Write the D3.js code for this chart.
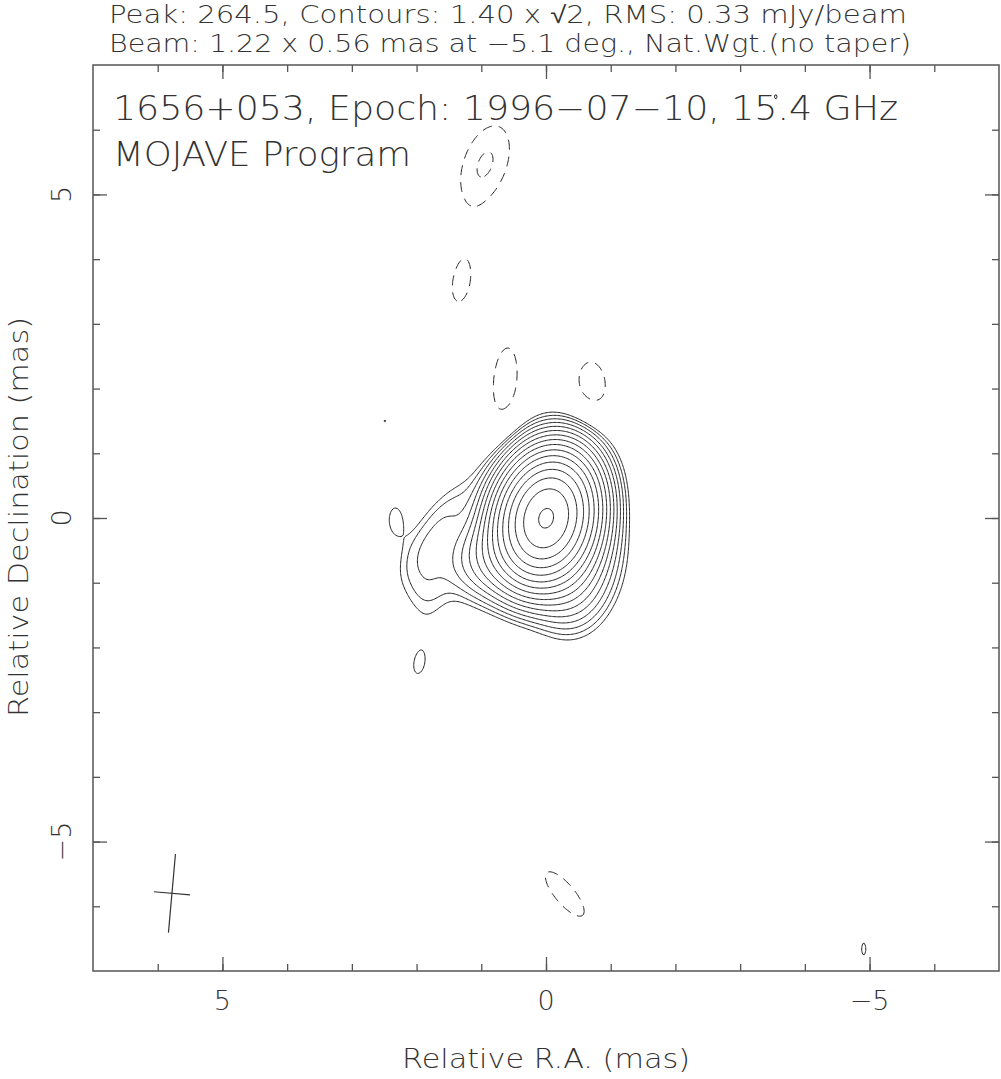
<!DOCTYPE html>
<html><head><meta charset="utf-8">
<script src="https://cdn.jsdelivr.net/npm/d3@7"></script>
<style>
body{margin:0;background:#fff}
svg text{font-family:"DejaVu Sans",sans-serif;fill:#333;font-weight:200}
</style></head><body>
<svg id="chart" width="1001" height="1079"></svg>
<script>
// ---------------- data ----------------
const raDomain = [7, -7];
const decDomain = [-7, 7];
const minorTicks = [6,5,4,3,2,1,0,-1,-2,-3,-4,-5,-6];
const majorTicks = [5, 0, -5];
const majorTickLabels = ["5", "0", "\u22125"];
const titleLines = [
  "Peak: 264.5, Contours: 1.40 x \u221A2, RMS: 0.33 mJy/beam",
  "Beam: 1.22 x 0.56 mas at \u22125.1 deg., Nat.Wgt.(no taper)"
];
const sourceTitle = "1656+053, Epoch: 1996\u221207\u221210, 15.4 GHz";
const programTitle = "MOJAVE Program";
const xAxisTitle = "Relative R.A. (mas)";
const yAxisTitle = "Relative Declination (mas)";
const peakFlux = 264.5;
const baseContour = 1.40;
const contourFactor = Math.SQRT2;
const beamMajor = 1.22, beamMinor = 0.56, beamPA = -5.1;
const beamCenter = [5.78, -5.8];
// Gaussian model components of the map (mas, mJy/beam, deg)
const compRA    = [0.00, -0.50, -0.35, 0.95, 1.85, 1.655, 2.33, 1.96, 2.49, -3.55, -4.91,  0.94,  1.31,  0.63, -0.71, -0.29];
const compDec   = [0.00, -0.60, -1.10, -0.65, -1.00, -0.09, -0.02, -2.25, 1.50, 6.51, -6.66,  5.47,  3.62,  2.12,  2.06, -5.81];
const compPeak  = [263,  6.0,   5.0,   7.0,  2.2,   2.3,  1.75,  1.50,  1.42, 1.45, 1.45, -2.06, -1.58, -1.85, -1.79, -1.81];
const compSMaj  = [0.52, 0.50,  0.45,  0.38, 0.42,  0.60, 0.25,  0.40,  0.10, 0.12, 0.35,  0.70,  0.54,  0.68,  0.50,  0.60];
const compSMin  = [0.38, 0.40,  0.35,  0.38, 0.28,  0.22, 0.13,  0.20,  0.08, 0.08, 0.12,  0.375, 0.24,  0.24,  0.30,  0.21];
const compPA    = [-15,  0,     0,     0,    0,    -35,   0,    -10,    0,    0,    0,    -20,   -10,    -5,    5,     40];

// ---------------- layout ----------------
const L = 93, R = 999, T = 65, B = 971;
const svg = d3.select("#chart");
const x = d3.scaleLinear().domain(raDomain).range([L, R]);
const y = d3.scaleLinear().domain(decDomain).range([B, T]);

// ---------------- field ----------------
const step = 0.02;
const n = Math.round((raDomain[0] - raDomain[1]) / step) + 1;
const values = new Float64Array(n * n);
const comps = compRA.map((ra, k) => {
  const pa = compPA[k] * Math.PI / 180;
  return {ra, dec: compDec[k], p: compPeak[k], a: 2 * compSMaj[k] ** 2, b: 2 * compSMin[k] ** 2,
          s: Math.sin(pa), c: Math.cos(pa), r: 6 * compSMaj[k]};
});
for (let j = 0; j < n; j++) {
  const dec = decDomain[1] - j * step;
  for (let i = 0; i < n; i++) {
    const ra = raDomain[0] - i * step;
    let v = 0;
    for (const q of comps) {
      const dx = ra - q.ra, dy = dec - q.dec;
      if (Math.abs(dx) > q.r || Math.abs(dy) > q.r) continue;
      const u = dx * q.s + dy * q.c, w = dx * q.c - dy * q.s;
      v += q.p * Math.exp(-(u * u / q.a + w * w / q.b));
    }
    values[j * n + i] = v;
  }
}
const posLevels = [];
for (let lv = baseContour; lv <= peakFlux; lv *= contourFactor) posLevels.push(lv);
const negLevels = [];
for (let lv = baseContour; lv <= 50; lv *= contourFactor) negLevels.push(lv);

const gridPath = d3.geoPath(d3.geoTransform({
  point(gx, gy) {
    this.stream.point(x(raDomain[0] - (gx - 0.5) * step), y(decDomain[1] - (gy - 0.5) * step));
  }
}));

svg.append("clipPath").attr("id", "clip").append("rect")
  .attr("x", L).attr("y", T).attr("width", R - L).attr("height", B - T);
const plot = svg.append("g").attr("clip-path", "url(#clip)");

const posC = d3.contours().size([n, n]).thresholds(posLevels)(values);
plot.selectAll("path.pos").data(posC).join("path").attr("class", "pos")
  .attr("d", gridPath).attr("fill", "none").attr("stroke", "#222").attr("stroke-width", 1);

const neg = values.map(v => -v);
const negC = d3.contours().size([n, n]).thresholds(negLevels)(neg);
plot.selectAll("path.neg").data(negC).join("path").attr("class", "neg")
  .attr("d", gridPath).attr("fill", "none").attr("stroke", "#222").attr("stroke-width", 1)
  .attr("stroke-dasharray", "10,7");

// ---------------- beam ----------------
const bpa = beamPA * Math.PI / 180;
const bx = beamCenter[0], by = beamCenter[1];
const beamLines = [
  [[bx + beamMajor / 2 * Math.sin(bpa), by + beamMajor / 2 * Math.cos(bpa)],
   [bx - beamMajor / 2 * Math.sin(bpa), by - beamMajor / 2 * Math.cos(bpa)]],
  [[bx + beamMinor / 2 * Math.cos(bpa), by - beamMinor / 2 * Math.sin(bpa)],
   [bx - beamMinor / 2 * Math.cos(bpa), by + beamMinor / 2 * Math.sin(bpa)]]
];
svg.selectAll("line.beam").data(beamLines).join("line").attr("class", "beam")
  .attr("x1", d => x(d[0][0])).attr("y1", d => y(d[0][1]))
  .attr("x2", d => x(d[1][0])).attr("y2", d => y(d[1][1]))
  .attr("stroke", "#333").attr("stroke-width", 1.2);

// ---------------- axes ----------------
const axStroke = "#555";
function styleAxis(g) {
  g.select(".domain").remove();
  g.selectAll("line").attr("stroke", axStroke).attr("stroke-width", 1.3);
  g.selectAll("text").remove();
}
svg.append("g").attr("transform", `translate(0,${B})`).call(d3.axisBottom(x).tickValues(minorTicks).tickSize(-7)).call(styleAxis);
svg.append("g").attr("transform", `translate(0,${B})`).call(d3.axisBottom(x).tickValues(majorTicks).tickSize(-14)).call(styleAxis);
svg.append("g").attr("transform", `translate(0,${T})`).call(d3.axisTop(x).tickValues(minorTicks).tickSize(-7)).call(styleAxis);
svg.append("g").attr("transform", `translate(0,${T})`).call(d3.axisTop(x).tickValues(majorTicks).tickSize(-14)).call(styleAxis);
svg.append("g").attr("transform", `translate(${L},0)`).call(d3.axisLeft(y).tickValues(minorTicks).tickSize(-7)).call(styleAxis);
svg.append("g").attr("transform", `translate(${L},0)`).call(d3.axisLeft(y).tickValues(majorTicks).tickSize(-14)).call(styleAxis);
svg.append("g").attr("transform", `translate(${R},0)`).call(d3.axisRight(y).tickValues(minorTicks).tickSize(-7)).call(styleAxis);
svg.append("g").attr("transform", `translate(${R},0)`).call(d3.axisRight(y).tickValues(majorTicks).tickSize(-14)).call(styleAxis);
svg.append("rect").attr("x", L).attr("y", T).attr("width", R - L).attr("height", B - T)
  .attr("fill", "none").attr("stroke", axStroke).attr("stroke-width", 1.5);

svg.selectAll("text.xt").data(majorTicks).join("text").attr("class", "xt")
  .attr("x", d => x(d)).attr("y", 1010).attr("text-anchor", "middle")
  .attr("font-size", 27).text((d, i) => majorTickLabels[i]);
svg.selectAll("text.yt").data(majorTicks).join("text").attr("class", "yt")
  .attr("transform", d => `translate(71,${y(d)}) rotate(-90)`).attr("text-anchor", "middle")
  .attr("font-size", 27).text((d, i) => majorTickLabels[i]);

svg.append("text").attr("x", 546).attr("y", 1068).attr("text-anchor", "middle")
  .attr("font-size", 27).attr("textLength", 288).attr("lengthAdjust", "spacingAndGlyphs").text(xAxisTitle);
svg.append("text").attr("transform", "translate(28,517) rotate(-90)").attr("text-anchor", "middle")
  .attr("font-size", 27).attr("textLength", 400).attr("lengthAdjust", "spacingAndGlyphs").text(yAxisTitle);

svg.append("text").attr("x", 109).attr("y", 23).attr("font-size", 24)
  .attr("textLength", 798).attr("lengthAdjust", "spacingAndGlyphs").text(titleLines[0]);
svg.append("text").attr("x", 109).attr("y", 52).attr("font-size", 24)
  .attr("textLength", 802).attr("lengthAdjust", "spacingAndGlyphs").text(titleLines[1]);
svg.append("text").attr("x", 113).attr("y", 120).attr("font-size", 33)
  .attr("textLength", 785).attr("lengthAdjust", "spacingAndGlyphs").text(sourceTitle);
svg.append("text").attr("x", 113).attr("y", 166).attr("font-size", 33)
  .attr("textLength", 298).attr("lengthAdjust", "spacingAndGlyphs").text(programTitle);
</script>
</body></html>
